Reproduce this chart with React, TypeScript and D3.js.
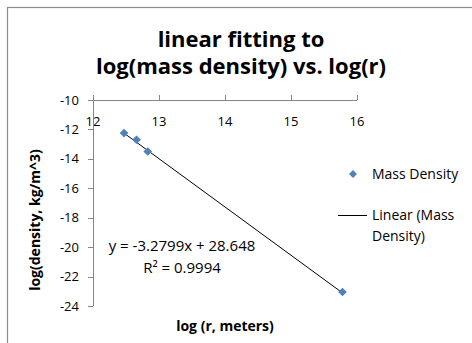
import React from "react";
import * as d3 from "d3";

const logR: number[] = [12.47, 12.66, 12.83, 15.78];
const logDensity: number[] = [-12.25, -12.7, -13.5, -23.05];
const xTicks: number[] = [12, 13, 14, 15, 16];
const yTicks: number[] = [-10, -12, -14, -16, -18, -20, -22, -24];
const slope = -3.2799;
const intercept = 28.648;
const titleLines: string[] = ["linear fitting to", "log(mass density) vs. log(r)"];
const equationText = "y = -3.2799x + 28.648";
const r2Text = "R² = 0.9994";
const seriesName = "Mass Density";
const trendLines: string[] = ["Linear (Mass", "Density)"];
const xTitle = "log (r, meters)";
const yTitle = "log(density, kg/m^3)";

const W = 472;
const H = 343;
const FONT = "'Open Sans', sans-serif";

export default function App() {
  const x = d3.scaleLinear().domain([12, 16]).range([93, 357]);
  const y = d3.scaleLinear().domain([-10, -24]).range([100, 306]);
  const axisColor = "#868686";
  const blue = "#4F81BD";
  const xMin = d3.min(logR)!;
  const xMax = d3.max(logR)!;
  const trend = d3.line<number>().x((d) => x(d)).y((d) => y(slope * d + intercept));
  const diamond = d3.symbol().type(d3.symbolDiamond2).size(48)();

  return (
    <svg width={W} height={H} style={{ position: "absolute", left: 0, top: 0 }}>
      <rect x={0} y={0} width={W} height={H} fill="#fff" />
      <rect x={7.5} y={7.5} width={W + 20} height={H + 20} fill="#fff" stroke="#8c8c8c" strokeWidth={1.2} />
      {titleLines.map((t, i) => (
        <text key={i} x={241} y={47 + i * 27} textAnchor="middle" fontFamily={FONT} fontWeight="bold" fontSize={22} fill="#000">
          {t}
        </text>
      ))}
      {/* x axis at top */}
      <line x1={x(12)} x2={x(16)} y1={y(-10) + 0.5} y2={y(-10) + 0.5} stroke={axisColor} />
      {xTicks.map((t) => (
        <g key={t}>
          <line x1={Math.round(x(t)) + 0.5} x2={Math.round(x(t)) + 0.5} y1={y(-10) - 5} y2={y(-10)} stroke={axisColor} />
          <text x={x(t)} y={y(-10) + 26} textAnchor="middle" fontFamily={FONT} fontSize={13} fill="#000">
            {t}
          </text>
        </g>
      ))}
      {/* y axis */}
      <line x1={x(12) + 0.5} x2={x(12) + 0.5} y1={y(-10)} y2={y(-24)} stroke={axisColor} />
      {yTicks.map((t) => (
        <g key={t}>
          <line x1={x(12) - 5} x2={x(12)} y1={Math.round(y(t)) + 0.5} y2={Math.round(y(t)) + 0.5} stroke={axisColor} />
          <text x={79} y={y(t) + 4.5} textAnchor="end" fontFamily={FONT} fontSize={13} fill="#000">
            {t}
          </text>
        </g>
      ))}
      {/* trendline */}
      <path d={trend([xMin, xMax]) || ""} fill="none" stroke="#000" strokeWidth={1} />
      {logR.map((v, i) => (
        <path key={i} d={diamond || ""} transform={`translate(${x(v)},${y(logDensity[i])})`} fill={blue} />
      ))}
      <text x={182} y={251} textAnchor="middle" fontFamily={FONT} fontSize={15} fill="#000">
        {equationText}
      </text>
      <text x={182} y={273} textAnchor="middle" fontFamily={FONT} fontSize={15} fill="#000">
        {r2Text}
      </text>
      {/* axis titles */}
      <text x={225} y={331} textAnchor="middle" fontFamily={FONT} fontWeight="bold" fontSize={14} fill="#000">
        {xTitle}
      </text>
      <text transform="translate(40,220) rotate(-90)" textAnchor="middle" fontFamily={FONT} fontWeight="bold" fontSize={14} fill="#000">
        {yTitle}
      </text>
      {/* legend */}
      <path d={d3.symbol().type(d3.symbolDiamond2).size(40)() || ""} transform="translate(353,174)" fill={blue} />
      <text x={372} y={179} fontFamily={FONT} fontSize={14} fill="#000">
        {seriesName}
      </text>
      <line x1={338} x2={367} y1={215.5} y2={215.5} stroke="#000" />
      {trendLines.map((t, i) => (
        <text key={i} x={372} y={220 + i * 21} fontFamily={FONT} fontSize={14} fill="#000">
          {t}
        </text>
      ))}
    </svg>
  );
}
